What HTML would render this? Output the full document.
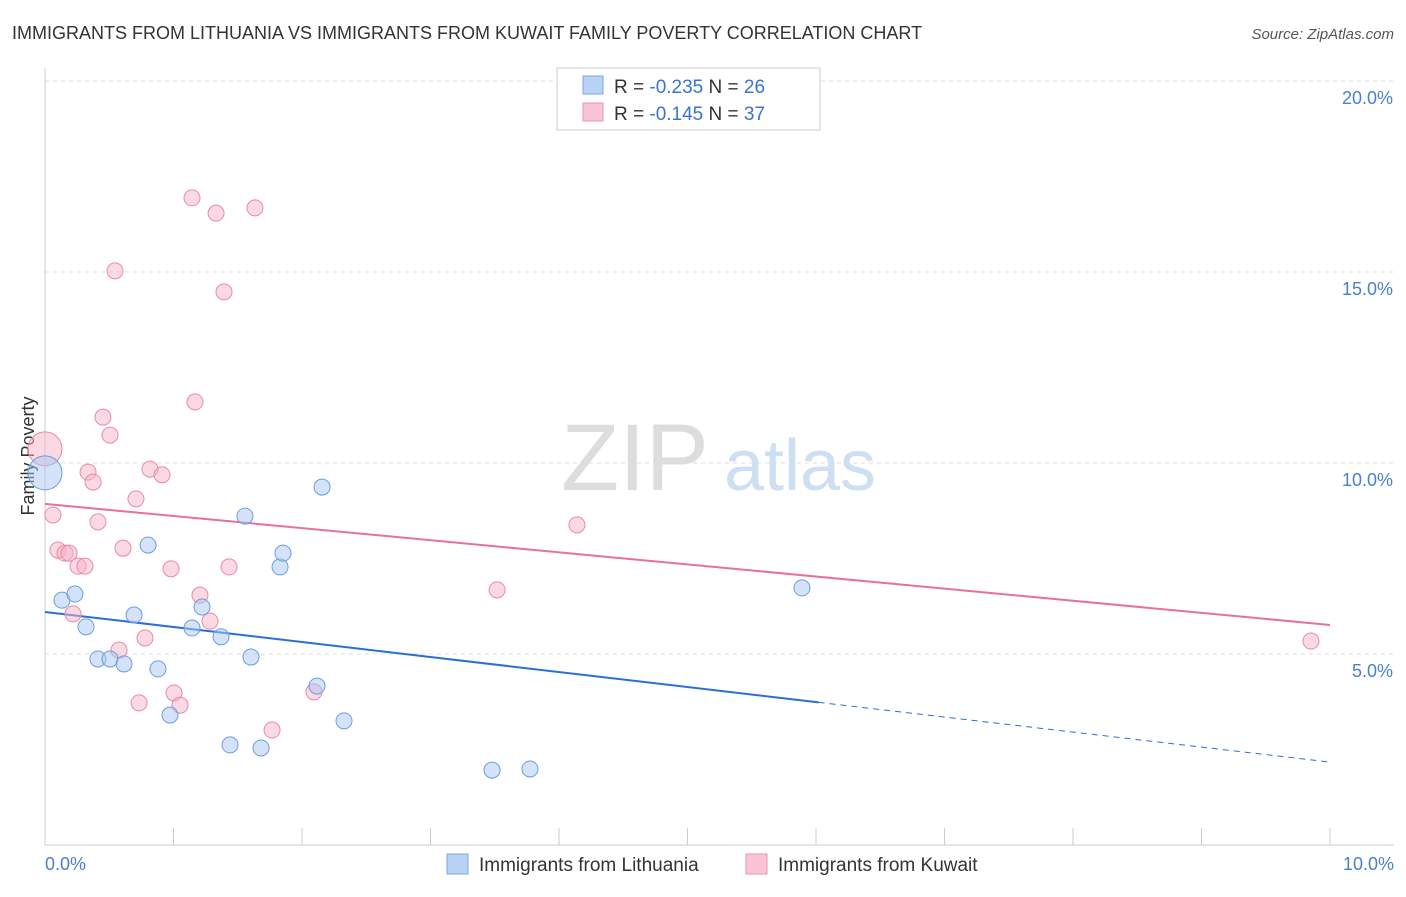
<!DOCTYPE html>
<html><head><meta charset="utf-8"><style>
body{margin:0;background:#fff;font-family:"Liberation Sans",sans-serif;}
svg text{font-family:"Liberation Sans",sans-serif;}
</style></head><body>
<svg width="1406" height="892" viewBox="0 0 1406 892">
<text x="12" y="39" font-size="18" fill="#333">IMMIGRANTS FROM LITHUANIA VS IMMIGRANTS FROM KUWAIT FAMILY POVERTY CORRELATION CHART</text>
<text x="1394" y="39" font-size="15" fill="#555" font-style="italic" text-anchor="end">Source: ZipAtlas.com</text>
<g id="grid"></g>
<g>
<text x="635" y="490" font-size="95" fill="#ddd" font-family="Liberation Serif" text-anchor="middle">ZIP</text>
<text x="800" y="490" font-size="72" fill="#cfdff3" text-anchor="middle">atlas</text>
</g>
<line x1="45" y1="68" x2="45" y2="845" stroke="#ccc"/>
<line x1="45" y1="845" x2="1394" y2="845" stroke="#ccc"/>
<g id="ticks"></g>
<g id="ylabels"></g>
<text x="45" y="870" font-size="18" fill="#4a7fd0">0.0%</text>
<text x="1394" y="870" font-size="18" fill="#4a7fd0" text-anchor="end">10.0%</text>
<text transform="translate(34,456) rotate(-90)" font-size="18" fill="#333" text-anchor="middle">Family Poverty</text>
<g id="lines"></g>
<g id="pts"></g>
<g>
<rect x="557" y="68" width="263" height="62" fill="#fff" stroke="#ccc"/>
<rect x="583" y="76" width="20" height="18" fill="#b9d3f5" stroke="#7aa6e0"/>
<rect x="583" y="103" width="20" height="18" fill="#f9c4d4" stroke="#e895b0"/>
<text x="614" y="93" font-size="19" fill="#333">R = <tspan fill="#3a74d0">-0.235</tspan>   N = <tspan fill="#3a74d0">26</tspan></text>
<text x="614" y="120" font-size="19" fill="#333">R =  <tspan fill="#3a74d0">-0.145</tspan>   N = <tspan fill="#3a74d0">37</tspan></text>
</g>
<g>
<rect x="447" y="854" width="21" height="20" fill="#b9d3f5" stroke="#7aa6e0"/>
<text x="479" y="871" font-size="19" fill="#333">Immigrants from Lithuania</text>
<rect x="746" y="854" width="21" height="20" fill="#f9c4d4" stroke="#e895b0"/>
<text x="778" y="871" font-size="19" fill="#333">Immigrants from Kuwait</text>
</g>
</svg>
<script>
const yTicks=[5,10,15,20];
const yTickLabels=["5.0%","10.0%","15.0%","20.0%"];
const xTicks=[0,1,2,3,4,5,6,7,8,9,10];
const blueX=[0.132,0.233,0.319,0.412,0.506,0.615,0.693,0.802,0.879,0.973,1.144,1.222,1.370,1.440,1.556,1.603,1.681,1.829,1.852,2.117,2.156,2.327,3.479,3.774,5.891,0];
const blueY=[6.41,6.57,5.71,4.87,4.87,4.74,6.02,7.85,4.61,3.40,5.68,6.23,5.45,2.62,8.61,4.92,2.54,7.28,7.64,4.16,9.37,3.25,1.96,1.99,6.73,9.74];
const blueBig=[25];
const pinkX=[0,0.062,0.101,0.156,0.187,0.218,0.257,0.311,0.335,0.374,0.412,0.451,0.506,0.545,0.576,0.607,0.708,0.778,0.817,0.911,0.981,1.004,1.051,0.732,1.144,1.167,1.206,1.284,1.331,1.393,1.432,1.634,1.767,2.093,3.518,4.140,9.852];
const pinkY=[10.37,8.64,7.72,7.64,7.64,6.05,7.30,7.30,9.76,9.50,8.46,11.20,10.73,15.03,5.10,7.77,9.06,5.42,9.84,9.69,7.23,3.98,3.66,3.72,16.94,11.60,6.54,5.86,16.54,14.48,7.28,16.68,3.01,4.01,6.68,8.38,5.34];
const pinkBig=[0];
const blueTrend=[6.10,2.17], blueSolidEnd=6.02;
const pinkTrend=[8.93,5.76];
const NS="http://www.w3.org/2000/svg";
const X=v=>45+v*128.5, Y=v=>845-v*38.2;
function mk(tag,attrs,parent){const e=document.createElementNS(NS,tag);for(const k in attrs)e.setAttribute(k,attrs[k]);document.getElementById(parent).appendChild(e);return e;}
yTicks.forEach((t,i)=>{
 const l=mk('line',{x1:45,x2:1394,y1:Y(t),y2:Y(t),stroke:'#ddd','stroke-dasharray':'4,4'},'grid');
 
 
 const tx=mk('text',{x:1393,y:Y(t)+23,'font-size':18,fill:'#4a7fd0','text-anchor':'end'},'ylabels');
 tx.textContent=yTickLabels[i];
 
 
});
xTicks.forEach(t=>{
 const l=mk('line',{x1:X(t),x2:X(t),y1:828,y2:845,stroke:'#ccc'},'ticks');
 
 
});
function trend(v,end,color,nm){
 const f=x=>v[0]+(v[1]-v[0])*x/10;
 const a=mk('line',{x1:X(0),y1:Y(f(0)),x2:X(end),y2:Y(f(end)),stroke:color,'stroke-width':2},'lines');
 
 
 if(end<10){const b=mk('line',{x1:X(end),y1:Y(f(end)),x2:X(10),y2:Y(f(10)),stroke:color,'stroke-width':1,'stroke-dasharray':'6,5'},'lines');
 
 }
}
trend(blueTrend,blueSolidEnd,'#2b6fd6','lithuania');
trend(pinkTrend,10,'#e8709a','kuwait');
function pts(xs,ys,big,fill,stroke,nm){
 xs.forEach((x,i)=>{
  const c=mk('circle',{cx:X(x),cy:Y(ys[i]),r:big.includes(i)?17:8,fill:fill,'fill-opacity':0.5,stroke:stroke,'stroke-width':1},'pts');
  
  
 });
}
pts(pinkX,pinkY,pinkBig,'#f5b3c8','#e88aa8','kuwait');
pts(blueX,blueY,blueBig,'#a9c8f0','#6b9de0','lithuania');
</script>
</body></html>
